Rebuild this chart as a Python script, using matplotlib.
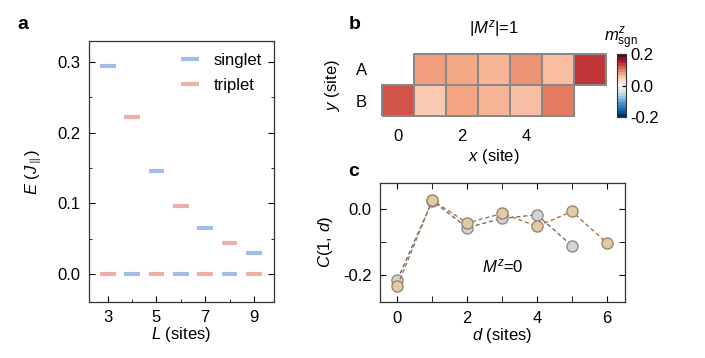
import numpy as np
import matplotlib
matplotlib.use('Agg')
import matplotlib.pyplot as plt

plt.rcParams['font.family'] = 'Liberation Sans'
plt.rcParams['font.size'] = 12
plt.rcParams['mathtext.fontset'] = 'custom'
plt.rcParams['mathtext.rm'] = 'Liberation Sans'
plt.rcParams['mathtext.it'] = 'Liberation Sans:italic'
plt.rcParams['axes.linewidth'] = 0.9
plt.rcParams['axes.edgecolor'] = '#333333'

# panel a: energy gaps
L_singlet = [3, 4, 5, 6, 7, 8, 9]
E_singlet = [0.294, 0.0, 0.146, 0.0, 0.065, 0.0, 0.0295]
L_triplet = [3, 4, 5, 6, 7, 8, 9]
E_triplet = [0.0, 0.222, 0.0, 0.096, 0.0, 0.043, 0.0]

# panel b: m^z_sgn on the ladder, row A sits on x=1..6, row B on x=0..5
x_A = [1, 2, 3, 4, 5, 6]
m_A = [0.083, 0.077, 0.068, 0.090, 0.062, 0.143]
x_B = [0, 1, 2, 3, 4, 5]
m_B = [0.125, 0.053, 0.080, 0.068, 0.060, 0.104]

# panel c: correlations
d_gray = [0, 1, 2, 3, 4, 5]
C_gray = [-0.214, 0.025, -0.056, -0.028, -0.017, -0.111]
d_tan = [0, 1, 2, 3, 4, 5, 6]
C_tan = [-0.232, 0.027, -0.042, -0.013, -0.052, -0.007, -0.102]

blue = '#a3bce8'
pink = '#eeb0a8'

fig = plt.figure(figsize=(7.05, 3.58), dpi=100)

# ---- a ----
ax = fig.add_axes([0.1262, 0.1564, 0.2624, 0.729])
w = 0.32
ax.hlines(E_singlet, np.array(L_singlet) - w, np.array(L_singlet) + w,
          color=blue, lw=3, label='singlet')
ax.hlines(E_triplet, np.array(L_triplet) - w, np.array(L_triplet) + w,
          color=pink, lw=3, label='triplet')
ax.set_xlim(2.23, 9.82)
ax.set_ylim(-0.04, 0.33)
ax.set_xticks([3, 5, 7, 9])
ax.set_xticks([4, 6, 8], minor=True)
ax.set_yticks([0.0, 0.1, 0.2, 0.3])
ax.set_yticks([0.05, 0.15, 0.25], minor=True)
ax.set_yticklabels(['0.0', '0.1', '0.2', '0.3'])
ax.tick_params(which='both', direction='in', right=True, top=False, pad=6)
ax.tick_params(which='major', length=4)
ax.tick_params(which='minor', length=2.5)
ax.set_xlabel('$L$ (sites)', labelpad=0)
ax.set_ylabel('$E$ ($J_{\\parallel}$)', labelpad=10)
ax.legend(loc='upper right', frameon=False, handlelength=1.1,
          handletextpad=0.9, borderaxespad=0.3, labelspacing=0.6)
fig.text(0.024, 0.955, 'a', fontsize=14, fontweight='bold', va='top')

# ---- b ----
bx = fig.add_axes([0.540, 0.6712, 0.3214, 0.1827])
edges = np.arange(-0.5, 7.0, 1.0)
kw = dict(cmap='RdBu_r', vmin=-0.2, vmax=0.2, edgecolors='#888888',
          linewidth=1.2)
bx.pcolormesh(edges[x_A[0]:x_A[-1] + 2], [0.5, 1.5], [m_A], **kw)
bx.pcolormesh(edges[x_B[0]:x_B[-1] + 2], [-0.5, 0.5], [m_B], **kw)
bx.set_xlim(-0.55, 6.55)
bx.set_ylim(-0.55, 1.55)
for s in bx.spines.values():
    s.set_visible(False)
bx.set_xticks([0, 2, 4])
bx.set_yticks([0, 1])
bx.set_yticklabels(['B', 'A'])
bx.tick_params(length=0, pad=8)
bx.tick_params(axis='y', pad=10)
bx.set_xlabel('$x$ (site)', labelpad=2)
bx.set_ylabel('$y$ (site)', labelpad=10)
bx.set_title('|$M^z$|=1', fontsize=12, pad=14)

cax = fig.add_axes([0.8748, 0.6723, 0.0132, 0.1768])
sm = plt.cm.ScalarMappable(cmap=plt.get_cmap('RdBu_r', 21),
                           norm=plt.Normalize(-0.2, 0.2))
cb = fig.colorbar(sm, cax=cax, ticks=[-0.2, 0.0, 0.2])
cb.ax.set_yticklabels(['-0.2', '0.0', '0.2'])
cb.ax.tick_params(direction='in', length=3, pad=3)
cb.outline.set_linewidth(0.8)
cax.set_title('$m^z_{\\rm sgn}$', fontsize=12, pad=9)
fig.text(0.494, 0.955, 'b', fontsize=14, fontweight='bold', va='top')

# ---- c ----
cx = fig.add_axes([0.539, 0.1556, 0.3475, 0.334])
cx.plot(d_gray, C_gray, ls=(0, (3, 2)), lw=1, color='#6e6e6e',
        marker='o', ms=8, mfc='#d3d3d3', mec='#8c8c8c', mew=1)
cx.plot(d_tan, C_tan, ls=(0, (3, 2)), lw=1, color='#a07858',
        marker='o', ms=8, mfc='#dccdaa', mec='#a88060', mew=1)
cx.set_xlim(-0.5, 6.52)
cx.set_ylim(-0.282, 0.08)
cx.set_xticks([0, 2, 4, 6])
cx.set_xticks([1, 3, 5], minor=True)
cx.set_yticks([-0.2, 0.0])
cx.set_yticks([-0.1], minor=True)
cx.set_yticklabels(['-0.2', '0.0'])
cx.tick_params(which='both', direction='in', right=True, top=True, pad=6)
cx.tick_params(which='major', length=4)
cx.tick_params(which='minor', length=4)
cx.set_xlabel('$d$ (sites)', labelpad=0)
cx.set_ylabel('$C$(1, $d$)', labelpad=6)
cx.text(0.5, 0.3, '$M^z$=0', transform=cx.transAxes, ha='center', va='center')
fig.text(0.494, 0.545, 'c', fontsize=14, fontweight='bold', va='top')

fig.savefig('out.png', dpi=100)
